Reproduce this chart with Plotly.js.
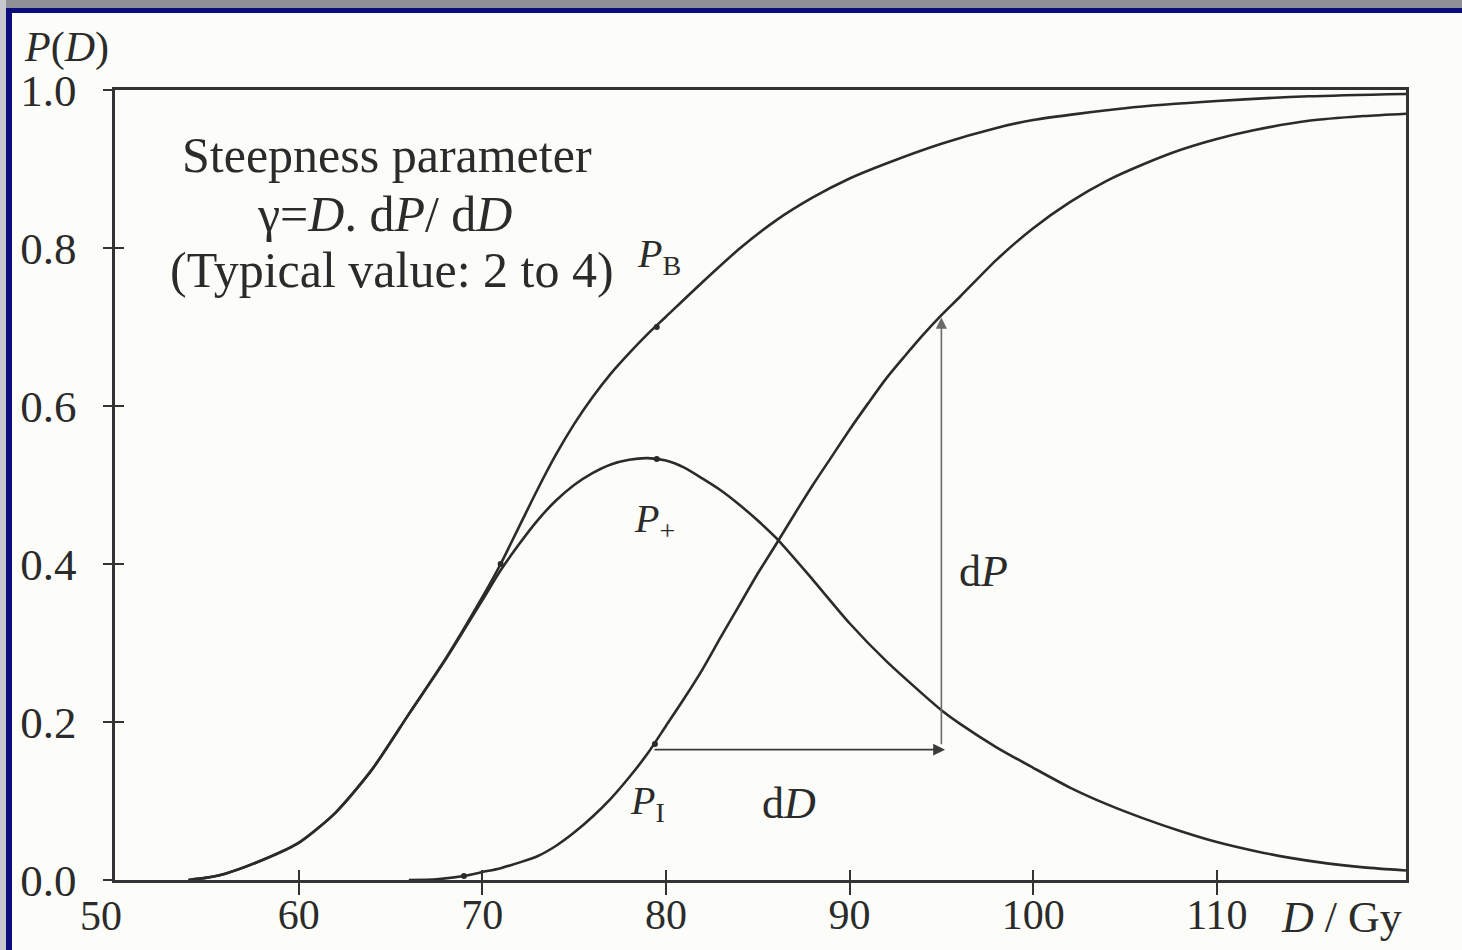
<!DOCTYPE html>
<html>
<head>
<meta charset="utf-8">
<script src="https://cdn.plot.ly/plotly-3.0.1.min.js"></script>
<style>
  html, body { margin: 0; padding: 0; background: #fcfdf9; }
  #wrap { position: relative; width: 1462px; height: 950px; overflow: hidden; }
  #chart { position: absolute; left: 0; top: 0; width: 1462px; height: 950px; }
  .frame { position: absolute; pointer-events: none; }
</style>
</head>
<body>
<div id="wrap">
  <div id="chart"></div>
  <div class="frame" style="left:0;top:0;width:1462px;height:8px;background:#8e9096;"></div>
  <div class="frame" style="left:0;top:0;width:6px;height:950px;background:#c8c9cf;"></div>
  <div class="frame" style="left:6px;top:8px;width:1456px;height:5px;background:#0c0c7c;"></div>
  <div class="frame" style="left:6px;top:8px;width:6px;height:942px;background:#0c0c7c;"></div>
</div>
<script>
// Dose axis (Gy) and the three probability curves
const doseBenefit = [54, 55, 56, 58, 60, 62, 64, 66, 68, 70, 71, 72, 73, 74, 75, 76, 77, 78, 79, 80, 82, 84, 86, 88, 90, 92, 95, 98, 100, 105, 110, 115, 120.3];
const probBenefit = [0, 0.003, 0.008, 0.025, 0.047, 0.085, 0.14, 0.21, 0.28, 0.358, 0.40, 0.447, 0.494, 0.538, 0.577, 0.611, 0.641, 0.667, 0.691, 0.713, 0.757, 0.799, 0.835, 0.864, 0.888, 0.907, 0.932, 0.952, 0.962, 0.977, 0.986, 0.992, 0.995];

const doseInjury = [66, 67.5, 69, 70, 71, 72, 73, 74, 75, 76, 77, 78, 79, 80, 81, 82, 83, 84, 85, 86, 87, 88, 89, 90, 91, 92, 93, 94, 95, 96, 98, 100, 102, 104, 106, 108, 110, 112, 115, 118, 120.3];
const probInjury = [0, 0.001, 0.005, 0.01, 0.015, 0.022, 0.03, 0.043, 0.06, 0.08, 0.103, 0.13, 0.16, 0.195, 0.23, 0.267, 0.308, 0.348, 0.388, 0.425, 0.463, 0.50, 0.535, 0.57, 0.603, 0.635, 0.663, 0.69, 0.715, 0.738, 0.785, 0.825, 0.858, 0.885, 0.906, 0.924, 0.938, 0.949, 0.961, 0.967, 0.97];

const dosePlus = [54, 55, 56, 58, 60, 62, 64, 66, 68, 70, 71, 72, 73, 74, 75, 76, 77, 78, 79, 80, 81, 82, 83, 84, 85, 86, 88, 90, 92, 94, 95, 96, 98, 100, 102, 104, 106, 108, 110, 112, 114, 116, 118, 120.3];
const probPlus = [0, 0.003, 0.008, 0.025, 0.047, 0.085, 0.14, 0.21, 0.279, 0.354, 0.392, 0.425, 0.455, 0.48, 0.50, 0.515, 0.526, 0.532, 0.534, 0.531, 0.522, 0.508, 0.493, 0.475, 0.455, 0.433, 0.38, 0.325, 0.277, 0.235, 0.215, 0.198, 0.168, 0.142, 0.117, 0.096, 0.078, 0.062, 0.048, 0.037, 0.028, 0.021, 0.016, 0.012];

// Small plotted points sitting on the curves
const pointDose = [71, 79.5, 79.5, 79.4, 69];
const pointProb = [0.40, 0.70, 0.533, 0.172, 0.005];

// Axis ticks
const doseTicks = [60, 70, 80, 90, 100, 110];
const probTicks = [0, 0.2, 0.4, 0.6, 0.8, 1.0];
const probTickText = ['0.0', '0.2', '0.4', '0.6', '0.8', '1.0'];

// dD / dP construction at the injury curve
const dDStart = 79.3, dDEnd = 95.2, dDLevel = 0.165;
const dPDose = 95.0, dPStart = 0.17, dPEnd = 0.712;

const ink = '#2b2b2b';
const serif = "'Liberation Serif', 'Times New Roman', Times, serif";
const doseRange = [50, 120.3];
const probRange = [0, 1];

const serifFont = size => ({ family: serif, size: size, color: ink });

const curve = (x, y, axes) => Object.assign({
  x: x, y: y, type: 'scatter', mode: 'lines', hoverinfo: 'skip',
  line: { color: ink, width: 2.6, shape: 'spline', smoothing: 0.7 },
  showlegend: false
}, axes || {});

const traces = [
  curve(doseBenefit, probBenefit),
  curve(dosePlus, probPlus),
  curve(doseInjury, probInjury, { xaxis: 'x2', yaxis: 'y2' }),
  { x: pointDose, y: pointProb, type: 'scatter', mode: 'markers', hoverinfo: 'skip',
    marker: { color: ink, size: 6, symbol: 'circle' }, showlegend: false }
];

const note = (x, y, text, size, extra) => Object.assign({
  x: x, y: y, xref: 'x', yref: 'y', text: text, showarrow: false,
  font: serifFont(size), xanchor: 'center', yanchor: 'middle'
}, extra || {});

const annotations = [
  note(64.8, 0.918, 'Steepness parameter', 50),
  note(64.7, 0.843, 'γ=<i>D</i>. d<i>P</i>/ d<i>D</i>', 50),
  note(65.1, 0.772, '(Typical value: 2 to 4)', 50),
  note(79.6, 0.79, '<i>P</i><sub>B</sub>', 40),
  note(79.4, 0.455, '<i>P</i><sub>+</sub>', 40),
  note(79.0, 0.098, '<i>P</i><sub>I</sub>', 40),
  note(86.7, 0.097, 'd<i>D</i>', 44),
  note(97.3, 0.39, 'd<i>P</i>', 44),
  // arrows
  { x: dDEnd, y: dDLevel, ax: dDStart, ay: dDLevel, xref: 'x', yref: 'y', axref: 'x', ayref: 'y',
    text: '', showarrow: true, arrowhead: 2, arrowsize: 1.4, arrowwidth: 1.7, arrowcolor: '#3a3a3a' },
  { x: dPDose, y: dPEnd, ax: dPDose, ay: dPStart, xref: 'x', yref: 'y', axref: 'x', ayref: 'y',
    text: '', showarrow: true, arrowhead: 2, arrowsize: 1.4, arrowwidth: 1.6, arrowcolor: '#6a6a6a' },
  // axis captions
  { x: -0.072, y: 1.054, xref: 'paper', yref: 'paper', text: '<i>P</i>(<i>D</i>)', showarrow: false,
    xanchor: 'left', yanchor: 'middle', font: serifFont(42) },
  { x: 116.8, y: -0.048, xref: 'x', yref: 'paper', text: '<i>D</i> / Gy', showarrow: false,
    xanchor: 'center', yanchor: 'middle', font: serifFont(44) },
  { x: 50, y: -0.046, xref: 'x', yref: 'paper', xshift: -14, text: '50', showarrow: false,
    xanchor: 'center', yanchor: 'middle', font: serifFont(42) }
];

const axisLine = { showline: true, linecolor: '#333', linewidth: 2.6, zeroline: false, showgrid: false };

const layout = {
  width: 1462, height: 950,
  margin: { l: 115, r: 56, t: 90, b: 70 },
  paper_bgcolor: '#fcfdf9', plot_bgcolor: '#fcfdf9',
  font: serifFont(42),
  xaxis: Object.assign({}, axisLine, {
    range: doseRange, mirror: true, tickmode: 'array', tickvals: doseTicks,
    ticks: 'outside', ticklen: 12, tickwidth: 2, tickcolor: '#333', ticklabelstandoff: -16,
    tickfont: serifFont(42)
  }),
  xaxis2: Object.assign({}, axisLine, {
    range: doseRange, overlaying: 'x', anchor: 'y2', side: 'bottom',
    tickmode: 'array', tickvals: doseTicks, ticks: 'inside', ticklen: 10, tickwidth: 2,
    tickcolor: '#333', showticklabels: false
  }),
  yaxis: Object.assign({}, axisLine, {
    range: probRange, mirror: true, tickmode: 'array', tickvals: probTicks, ticktext: probTickText,
    ticks: 'outside', ticklen: 9, tickwidth: 2, tickcolor: '#333', ticklabelstandoff: 18,
    tickfont: serifFont(45)
  }),
  yaxis2: Object.assign({}, axisLine, {
    range: probRange, overlaying: 'y', anchor: 'x2', side: 'left',
    tickmode: 'array', tickvals: probTicks, ticks: 'inside', ticklen: 9, tickwidth: 2,
    tickcolor: '#333', showticklabels: false
  }),
  annotations: annotations,
  showlegend: false
};

Plotly.newPlot('chart', traces, layout, { staticPlot: true, displayModeBar: false });
</script>
</body>
</html>
